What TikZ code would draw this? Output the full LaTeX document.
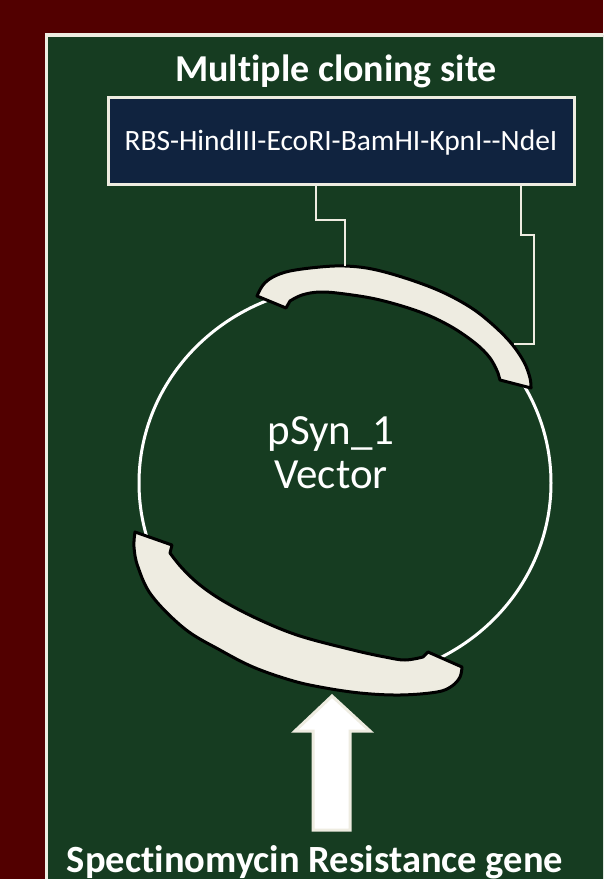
\documentclass[tikz,border=0pt]{standalone}
\usepackage{fontspec}
\setmainfont{Carlito}[RawFeature={-liga}]
\definecolor{bgred}{HTML}{520000}
\definecolor{panelgreen}{HTML}{163C21}
\definecolor{cream}{HTML}{EEECE1}
\definecolor{navy}{HTML}{10233F}
\begin{document}
\begin{tikzpicture}[x=1pt,y=-1pt,
  conn/.style={draw=cream, line width=1.6pt},
  band/.style={fill=cream, draw=black, line width=3pt, line join=round},
  wtext/.style={text=white, inner sep=0pt}]
\useasboundingbox (0,0) rectangle (603,879);
\clip (0,0) rectangle (603,879);
\fill[bgred] (0,0) rectangle (603,879);
\draw[cream, line width=3.5pt, fill=panelgreen] (46.5,35) rectangle (660,940);
% title
\node[wtext, anchor=base, font=\bfseries\fontsize{38}{40}\selectfont] (title) at (336,81) {Multiple cloning site};
% MCS box
\node[draw=cream, line width=3pt, fill=navy, minimum width=466pt, minimum height=87pt, inner sep=0pt] (mcs) at (341,141) {};
\node[wtext, anchor=base, font=\fontsize{29.5}{30}\selectfont] (mcstext) at (341,150) {RBS-HindIII-EcoRI-BamHI-KpnI-{}-NdeI};
% circle
\draw[white, line width=3pt] (345,483) ellipse [x radius=206pt, y radius=197pt];
% top band
\draw[band] plot[smooth, tension=0.6] coordinates {(257,296) (263,285) (273,277) (290,271) (320,267) (345,266) (372,269) (405,278) (440,291) (470,307) (492,324) (511,343) (524,362) (530,378) (531,388)}
  -- (500,380) -- (498,373)
  -- plot[smooth, tension=0.6] coordinates {(498,373) (490,358) (475,343) (450,326) (420,312) (380,300) (345,294) (320,292) (302,295) (290,301)}
  -- (286,308) -- cycle;
% bottom band
\draw[band] plot[smooth, tension=0.6] coordinates {(135,532) (134,547) (138,567) (152,596) (185,629) (220,650) (253,667) (290,680) (320,687) (360,693) (400,695) (437,692) (452,686) (460,677) (462,667)}
  -- (428,652) -- (423,657)
  -- plot[smooth, tension=0.6] coordinates {(423,657) (405,660) (385,657) (353,650) (300,636) (260,620) (225,602) (200,585) (182,568) (170,553)}
  -- (172,545) -- cycle;
% connectors
\coordinate (xL) at (316,0);
\coordinate (xR) at (521,0);
\coordinate (topend) at (345,266);
\coordinate (rightend) at (514,344);
\draw[conn] (mcs.south -| xL) |- (345,220) -- (topend);
\draw[conn] (mcs.south -| xR) |- (534,235) |- (rightend);
% vector label
\node[wtext, align=center, font=\fontsize{43}{44}\selectfont] (vec) at (331,453) {pSyn\_1\\Vector};
% arrow
\draw[fill=white, draw=cream, line width=3pt, line join=miter] (332,696) -- (370,731) -- (350,731) -- (350,830) -- (313,830) -- (313,731) -- (295,731) -- cycle;
% bottom label
\node[wtext, anchor=base, font=\bfseries\fontsize{38.5}{40}\selectfont] (spec) at (315,872) {Spectinomycin Resistance gene};
\end{tikzpicture}
\end{document}
